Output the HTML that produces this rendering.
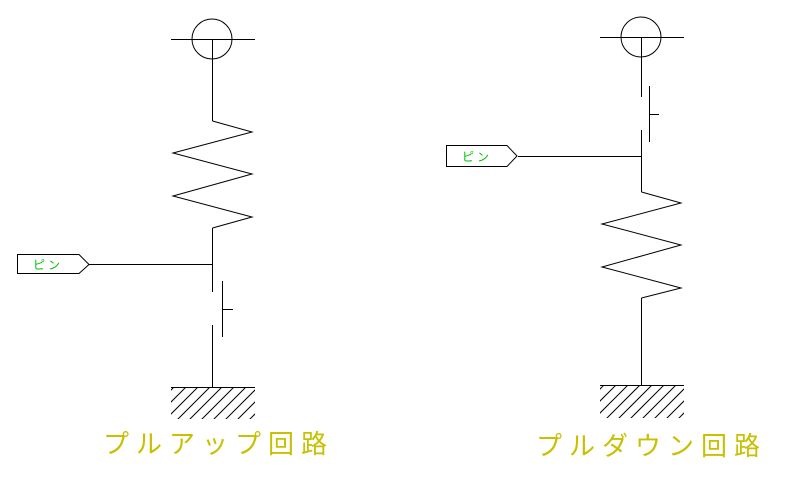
<!DOCTYPE html>
<html><head><meta charset="utf-8"><style>
html,body{margin:0;padding:0;background:#fff;}
svg{display:block}
</style></head><body>
<svg width="786" height="491" viewBox="0 0 786 491" xmlns="http://www.w3.org/2000/svg">
<defs>
<clipPath id="g1"><rect x="171" y="388" width="84" height="31"/></clipPath>
<clipPath id="g2"><rect x="600" y="386" width="84" height="32"/></clipPath>
</defs>
<g fill="none" stroke="#000" stroke-width="1" shape-rendering="crispEdges">
<!-- left -->
<circle cx="212" cy="39" r="20" shape-rendering="auto"/>
<line x1="171" y1="39.5" x2="255" y2="39.5"/>
<line x1="212.5" y1="39" x2="212.5" y2="121"/>
<polyline shape-rendering="auto" points="212.5,121 252,132 173,153 252,174 173,196 252,217 212.5,228"/>
<line x1="212.5" y1="228" x2="212.5" y2="292"/>
<line x1="212.5" y1="325" x2="212.5" y2="387"/>
<line x1="222.5" y1="281" x2="222.5" y2="337"/>
<line x1="222" y1="309.5" x2="233" y2="309.5"/>
<line x1="89" y1="264.5" x2="212" y2="264.5"/>
<polygon shape-rendering="auto" points="17.5,254.5 79,254.5 89,264.5 79,273.5 17.5,273.5"/>
<line x1="171" y1="387.5" x2="255" y2="387.5"/>
<g clip-path="url(#g1)" shape-rendering="auto">
<line x1="141" y1="420" x2="175" y2="386"/><line x1="153" y1="420" x2="187" y2="386"/><line x1="165" y1="420" x2="199" y2="386"/><line x1="177" y1="420" x2="211" y2="386"/><line x1="189" y1="420" x2="223" y2="386"/><line x1="201" y1="420" x2="235" y2="386"/><line x1="213" y1="420" x2="247" y2="386"/><line x1="225" y1="420" x2="259" y2="386"/><line x1="237" y1="420" x2="271" y2="386"/><line x1="249" y1="420" x2="283" y2="386"/>
</g>
<!-- right -->
<circle cx="641" cy="37" r="20" shape-rendering="auto"/>
<line x1="600" y1="37.5" x2="684" y2="37.5"/>
<line x1="641.5" y1="37" x2="641.5" y2="97"/>
<line x1="641.5" y1="130" x2="641.5" y2="192"/>
<line x1="649.5" y1="86" x2="649.5" y2="142"/>
<line x1="649" y1="114.5" x2="659" y2="114.5"/>
<polyline shape-rendering="auto" points="641.5,192 681,203 602,224 681,245 602,267 681,288 641.5,298"/>
<line x1="641.5" y1="298" x2="641.5" y2="385"/>
<line x1="518" y1="156.5" x2="641" y2="156.5"/>
<polygon shape-rendering="auto" points="446.5,145.5 507,145.5 517,156 507,166.5 446.5,166.5"/>
<line x1="600" y1="385.5" x2="684" y2="385.5"/>
<g clip-path="url(#g2)" shape-rendering="auto">
<line x1="570" y1="419" x2="604" y2="385"/><line x1="582" y1="419" x2="616" y2="385"/><line x1="594" y1="419" x2="628" y2="385"/><line x1="606" y1="419" x2="640" y2="385"/><line x1="618" y1="419" x2="652" y2="385"/><line x1="630" y1="419" x2="664" y2="385"/><line x1="642" y1="419" x2="676" y2="385"/><line x1="654" y1="419" x2="688" y2="385"/><line x1="666" y1="419" x2="700" y2="385"/><line x1="678" y1="419" x2="712" y2="385"/>
</g>
</g>
<g font-family="'Liberation Sans','Noto Sans CJK JP',sans-serif">
<text x="33" y="269" font-size="12" fill="#00c000" letter-spacing="3">ピン</text>
<text x="462" y="161" font-size="12" fill="#00c000" letter-spacing="3">ピン</text>
<text x="103" y="453" font-size="26" fill="#c8c000" letter-spacing="7">プルアップ回路</text>
<text x="536" y="455" font-size="26" fill="#c8c000" letter-spacing="7">プルダウン回路</text>
</g>
</svg>
</body></html>
